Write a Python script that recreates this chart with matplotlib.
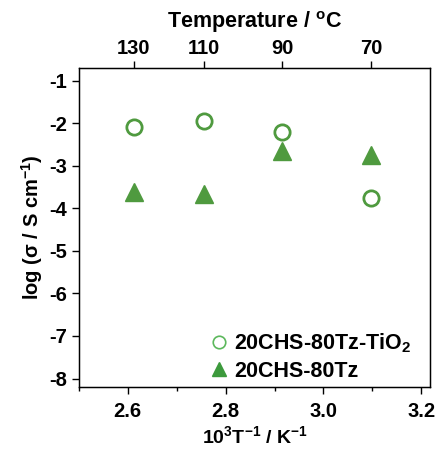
import numpy as np
import matplotlib.pyplot as plt
from matplotlib.ticker import MultipleLocator
from matplotlib.lines import Line2D

plt.rcParams['font.family'] = ['Liberation Sans', 'DejaVu Sans']
plt.rcParams['font.weight'] = 'bold'
plt.rcParams['mathtext.default'] = 'regular'
plt.rcParams['axes.unicode_minus'] = False

# data
temp_c = [130, 110, 90, 70]
inv_t = [2.612, 2.756, 2.916, 3.097]          # 10^3 T^-1 / K^-1
log_sigma_tio2 = [-2.08, -1.96, -2.20, -3.75]  # 20CHS-80Tz-TiO2
log_sigma_tz = [-3.61, -3.67, -2.65, -2.75]    # 20CHS-80Tz

green = '#4f9a3f'

fig = plt.figure(figsize=(4.38, 4.49), dpi=100)
ax = fig.add_axes([0.180, 0.138, 0.802, 0.711])

ax.plot(inv_t, log_sigma_tio2, 'o', ms=11, mfc='white', mec=green, mew=2,
        ls='none')
ax.plot(inv_t, log_sigma_tz, '^', ms=13, color=green, ls='none')

ax.set_xlim(2.5, 3.218)
ax.set_ylim(-8.2, -0.7)
ax.set_xticks([2.6, 2.8, 3.0, 3.2])
ax.set_xticklabels(['2.6', '2.8', '3.0', '3.2'])
ax.xaxis.set_minor_locator(MultipleLocator(0.1))
ax.yaxis.set_major_locator(MultipleLocator(1))
ax.tick_params(axis='both', which='major', direction='out', length=5, width=1,
               labelsize=14.5)
ax.tick_params(axis='x', which='major', pad=6)
ax.tick_params(axis='x', which='minor', direction='out', length=3, width=1)
for s in ax.spines.values():
    s.set_linewidth(1)

ax.set_xlabel('10$^3$T$^{-1}$ / K$^{-1}$', fontsize=14, fontweight='bold', labelpad=3)
ax.set_ylabel('log (σ / S cm$^{-1}$)', fontsize=14.5, fontweight='bold', labelpad=3)

# top axis: temperature in degC
top = ax.twiny()
top.set_xlim(ax.get_xlim())
top.set_xticks(inv_t)
top.set_xticklabels([str(t) for t in temp_c])
top.tick_params(axis='x', direction='out', length=5, width=1, labelsize=14.5, pad=2)
top.set_xlabel('Temperature / $^{o}$C', fontsize=15.5, fontweight='bold', labelpad=8)

handles = [
    Line2D([], [], marker='o', ms=9, mfc='white', mec='#5cb85c', mew=1.2, ls='none'),
    Line2D([], [], marker='^', ms=10, color='#3c9a3c', ls='none'),
]
labels = ['20CHS-80Tz-TiO$_2$', '20CHS-80Tz']
leg = ax.legend(handles, labels, loc='lower right', bbox_to_anchor=(0.99, -0.03),
                frameon=False, fontsize=15.5, handletextpad=0.2,
                borderaxespad=0.3, labelspacing=0.25, handlelength=1.0)
for txt in leg.get_texts():
    txt.set_fontweight('bold')

fig.savefig('out.png', dpi=100)
